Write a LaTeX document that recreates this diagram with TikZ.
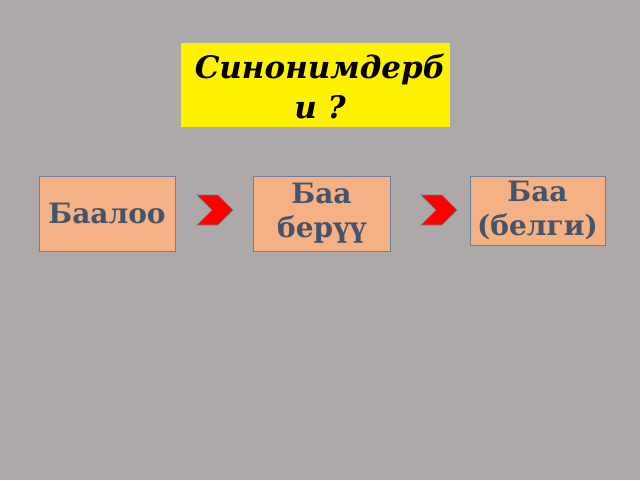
\documentclass[tikz,border=0pt]{standalone}
\usepackage{fontspec}
\setmainfont{DejaVu Serif}
\begin{document}
\begin{tikzpicture}[x=1pt,y=-1pt,
  box/.style={draw=bord,fill=boxc,line width=0.8pt,inner sep=0pt,align=center,text=txtc,font=\bfseries\fontsize{28}{34}\selectfont},
  chev/.style={fill=red,draw=bord,line width=0.6pt}]
\definecolor{bg}{HTML}{ADA9A9}
\definecolor{boxc}{HTML}{F4B183}
\definecolor{txtc}{HTML}{44546A}
\definecolor{bord}{HTML}{6C7FA0}
\fill[bg] (0,0) rectangle (640,480);
\useasboundingbox (0,0) rectangle (640,480);
\node[fill=yellow,minimum width=269pt,minimum height=84pt,inner sep=0pt] (t) at (315.5,85) {};
\node[font=\bfseries\itshape\fontsize{31}{40}\selectfont,align=center,inner sep=0pt] (tt) at (320,87) {Синонимдерб\\и ?};
\node[box,minimum width=136pt,minimum height=75pt] (a) at (107,213.5) {Баалоо};
\node[box,minimum width=137pt,minimum height=75pt] (b) at (321.5,213.5) {Баа\\берүү};
\node[box,minimum width=135pt,minimum height=69pt] (c) at (537.5,210.5) {Баа\\(белги)};
\draw[chev] (197,195) -- (218,195) -- (233,210) -- (218,225) -- (197,225) -- (212,210) -- cycle;
\draw[chev] (421,195) -- (442,195) -- (457,210) -- (442,225) -- (421,225) -- (436,210) -- cycle;
\end{tikzpicture}
\end{document}
